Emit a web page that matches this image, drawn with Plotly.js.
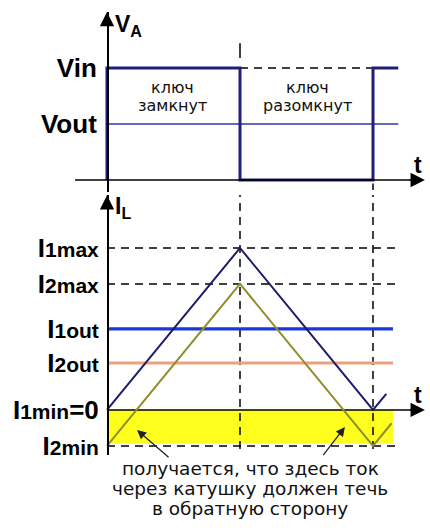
<!DOCTYPE html>
<html><head><meta charset="utf-8">
<script src="https://cdn.plot.ly/plotly-3.0.1.min.js"></script>
<style>html,body{margin:0;padding:0;background:#fff}#c{width:430px;height:530px}</style>
</head><body><div id="c"></div>
<script>
// time (units of switch-on interval)
const tOn = 0, tOff = 1, tOn2 = 2, tEnd = 2.15;
// top panel: node voltage V_A
const vaX = [0, 0, 1, 1, 2, 2, 2.19];
const vaY = [0, 1, 1, 0, 0, 1, 1];
const Vin = 1, Vout = 0.5;
// bottom panel: inductor currents
const i1X = [0, 1, 2, 2.1];
const i1Y = [0, 2, 0, 0.2];
const i2X = [0, 1, 2, 2.14];
const i2Y = [-0.444, 1.556, -0.444, -0.164];
const I1max = 2, I2max = 1.556, I1out = 1, I2out = 0.58, I1min = 0, I2min = -0.444;
// tick labels
const topTickVals = [Vin, Vout];
const topTickText = ["Vin", "Vout"];
const sm = "<span style='font-size:21px'>";
const botTickVals = [I1max, I2max, I1out, I2out, I1min, I2min];
const botTickText = [
  "I" + sm + "1max</span>",
  "I" + sm + "2max</span>",
  "I" + sm + "1out</span>",
  "I" + sm + "2out</span>",
  "I" + sm + "1min</span>=0",
  "I" + sm + "2min</span>"
];
const stateLines = [["ключ", "замкнут"], ["ключ", "разомкнут"]];
const noteLines = ["получается, что здесь ток", "через катушку должен течь", "в обратную сторону"];

const K = '#000';
const dash = '8px,6px';
function ln(x, y, ya, color, width, d) {
  return {x: x, y: y, yaxis: ya, xaxis: 'x', type: 'scatter', mode: 'lines',
    line: {color: color, width: width, dash: d || 'solid'}, hoverinfo: 'skip', showlegend: false};
}
const traces = [
  // yellow region of negative current
  {x: [0, tEnd, tEnd, 0, 0], y: [I2min + 0.03, I2min + 0.03, 0, 0, I2min + 0.03], yaxis: 'y2', xaxis: 'x',
   type: 'scatter', mode: 'lines', fill: 'toself', fillcolor: '#ffff1e', line: {width: 0}, hoverinfo: 'skip', showlegend: false},
  // top panel
  ln([tOff, tOff], [1.09, 1.22], 'y', K, 1.5),
  ln([tOff, tOn2], [Vin, Vin], 'y', K, 1.5, dash),
  ln([tOn2, tOn2], [-0.03, -0.09], 'y', K, 1.5),
  ln([0, 2.19], [Vout, Vout], 'y', '#3434a6', 1.6),
  ln(vaX, vaY, 'y', '#1f1f78', 3),
  ln([-0.24, 2.3], [0, 0], 'y', K, 1.5),
  // bottom panel
  ln([0, 2.2], [I1max, I1max], 'y2', K, 1.5, dash),
  ln([0, 2.2], [I2max, I2max], 'y2', K, 1.5, dash),
  ln([0, 2.2], [I2min, I2min], 'y2', K, 1.5, dash),
  ln([tOff, tOff], [2.9, -0.56], 'y2', K, 1.5, dash),
  ln([tOn2, tOn2], [2.9, -0.56], 'y2', K, 1.5, dash),
  ln([0, 2.3], [0, 0], 'y2', K, 1.5),
  ln([0, tEnd], [I1out, I1out], 'y2', '#1b38d6', 3.2),
  ln([0, tEnd], [I2out, I2out], 'y2', '#eba27c', 3.2),
  ln(i2X, i2Y, 'y2', '#8e8e2c', 2),
  ln(i1X, i1Y, 'y2', '#1c1c6c', 2)
];

const bold = {family: 'Liberation Sans, Arial, sans-serif', size: 26, color: '#000', weight: 'bold'};
const boldS = {family: 'Liberation Sans, Arial, sans-serif', size: 23, color: '#000', weight: 'bold'};
const plain = {family: 'DejaVu Sans, sans-serif', size: 16, color: '#111'};
function arrowAnn(x, y, yref, ax, ay, size) {
  return {x: x, y: y, xref: 'x', yref: yref, ax: ax, ay: ay, text: '', showarrow: true,
    arrowhead: 2, arrowsize: size, arrowwidth: 2.2, arrowcolor: '#000', standoff: 0};
}
const annotations = [
  arrowAnn(0, 1.5, 'y', 0, 14, 1.3),
  arrowAnn(2.39, 0, 'y', -16, 0, 1.3),
  arrowAnn(0, 2.65, 'y2', 0, 14, 1.3),
  arrowAnn(2.39, 0, 'y2', -16, 0, 1.3),
  {x: 0.045, y: 1.38, xref: 'x', yref: 'y', text: "V<sub>A</sub>", showarrow: false, xanchor: 'left', font: boldS},
  {x: 0.045, y: 2.5, xref: 'x', yref: 'y2', text: "I<sub>L</sub>", showarrow: false, xanchor: 'left', font: boldS},
  {x: 2.34, y: 0.13, xref: 'x', yref: 'y', text: 't', showarrow: false, xanchor: 'center', font: boldS},
  {x: 2.34, y: 0.18, xref: 'x', yref: 'y2', text: 't', showarrow: false, xanchor: 'center', font: boldS},
  {x: 0.2256, y: -0.247, xref: 'x', yref: 'y2', ax: 0.474, ay: -0.6, axref: 'x', ayref: 'y2', text: '',
   showarrow: true, arrowhead: 2, arrowsize: 1.4, arrowwidth: 1.3, arrowcolor: '#222', standoff: 0},
  {x: 1.789, y: -0.21, xref: 'x', yref: 'y2', ax: 1.617, ay: -0.575, axref: 'x', ayref: 'y2', text: '',
   showarrow: true, arrowhead: 2, arrowsize: 1.4, arrowwidth: 1.3, arrowcolor: '#222', standoff: 0}
];
const stateX = [0.49, 1.51], stateY = [0.83, 0.665];
stateLines.forEach((pair, j) => pair.forEach((t, i) => annotations.push({
  x: stateX[j], y: stateY[i], xref: 'x', yref: 'y', text: t, showarrow: false, font: plain
})));
const noteY = [468, 488, 508];
noteLines.forEach((t, i) => annotations.push({
  x: 250 / 430, y: 1 - noteY[i] / 530, xref: 'paper', yref: 'paper', text: t, showarrow: false,
  xanchor: 'center', yanchor: 'middle', font: {family: 'DejaVu Sans, sans-serif', size: 18.5, color: '#111'}
}));

const layout = {
  width: 430, height: 530, margin: {l: 0, r: 0, t: 0, b: 0},
  paper_bgcolor: '#fff', plot_bgcolor: 'rgba(0,0,0,0)', showlegend: false,
  xaxis: {domain: [0, 1], range: [-0.8045, 2.4286], visible: false, fixedrange: true},
  yaxis: {domain: [1 - 192 / 530, 1 - 12 / 530], range: [-0.107, 1.5], anchor: 'free', position: 107 / 430,
    showline: true, linecolor: '#000', linewidth: 1.5, showgrid: false, zeroline: false, ticks: '',
    tickvals: topTickVals, ticktext: topTickText, tickfont: bold, ticklabelstandoff: 5, fixedrange: true},
  yaxis2: {domain: [1 - 455 / 530, 1 - 195 / 530], range: [-0.556, 2.654], anchor: 'free', position: 107 / 430,
    showline: true, linecolor: '#000', linewidth: 1.5, showgrid: false, zeroline: false, ticks: '',
    tickvals: botTickVals, ticktext: botTickText, tickfont: bold, ticklabelstandoff: 3, fixedrange: true},
  annotations: annotations
};
Plotly.newPlot('c', traces, layout, {displayModeBar: false, staticPlot: true});
</script></body></html>
